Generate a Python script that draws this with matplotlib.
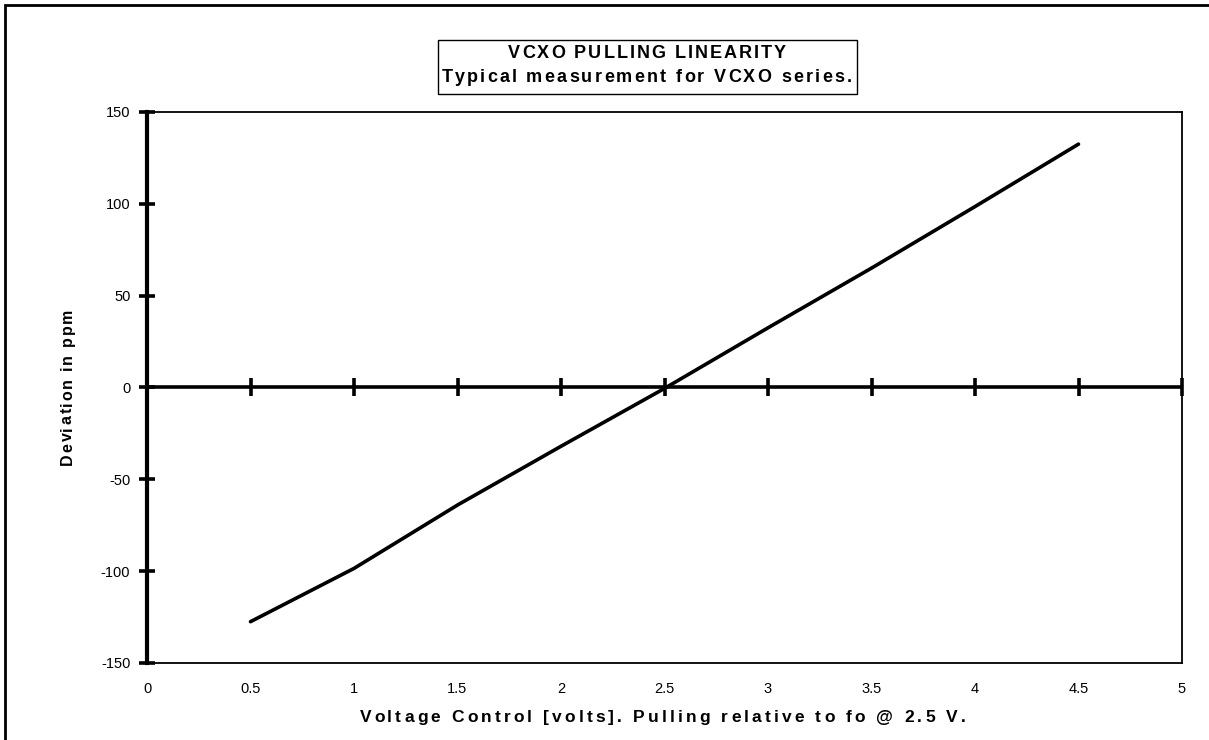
import matplotlib.pyplot as plt
from matplotlib.font_manager import FontProperties
from matplotlib.patches import Rectangle

plt.rcParams['font.family'] = ['Liberation Sans', 'DejaVu Sans']
plt.rcParams['axes.unicode_minus'] = False

# data
voltage = [0.5, 1.0, 1.5, 2.0, 2.5, 3.0, 3.5, 4.0, 4.5]
deviation = [-127.5, -98.5, -64.0, -32.0, -0.5, 32.5, 65.0, 98.5, 132.5]

xticks = [0, 0.5, 1, 1.5, 2, 2.5, 3, 3.5, 4, 4.5, 5]
xticklabels = ['0', '0.5', '1', '1.5', '2', '2.5', '3', '3.5', '4', '4.5', '5']
yticks = [-150, -100, -50, 0, 50, 100, 150]

title1 = 'VCXO PULLING LINEARITY'
title2 = 'Typical measurement for VCXO series.'
xlabel = 'Voltage Control [volts]. Pulling relative to fo @ 2.5 V.'
ylabel = 'Deviation in ppm'

W, H = 1209, 740
fig = plt.figure(figsize=(W / 100, H / 100), dpi=100)
renderer = fig.canvas.get_renderer()


def width_px(s, fp):
    # advance width of s, a sentinel keeps trailing spaces counted
    w1 = renderer.get_text_width_height_descent(s + '|', fp, ismath=False)[0]
    w0 = renderer.get_text_width_height_descent('|', fp, ismath=False)[0]
    return w1 - w0


def spaced_text(cx, cy, s, size, span, vertical=False):
    # draws s centred on pixel (cx, cy) (y from top), letters spread to span px
    fp = FontProperties(family=['Liberation Sans', 'DejaVu Sans'], weight='bold', size=size)
    track = (span - width_px(s, fp)) / (len(s) - 1)
    caph = renderer.get_text_width_height_descent('H', fp, ismath=False)[1]
    for i, ch in enumerate(s):
        if ch == ' ':
            continue
        off = width_px(s[:i], fp) + track * i - span / 2
        if vertical:
            x, y = cx + caph / 2, cy - off
            rot = 90
        else:
            x, y = cx + off, cy + caph / 2
            rot = 0
        fig.text(x / W, 1 - y / H, ch, fontproperties=fp, rotation=rot,
                 rotation_mode='anchor', ha='left', va='baseline')


# outer chart border
fig.patches.append(Rectangle((5 / W, -0.1), 1.2, 1 - 5 / H + 0.1,
                             transform=fig.transFigure, fill=False,
                             edgecolor='black', linewidth=2.0))

ax = fig.add_axes([147 / W, 1 - 663 / H, (1182 - 147) / W, (663 - 112) / H])
ax.set_xlim(0, 5)
ax.set_ylim(-150, 150)

# zero line with its tick marks
ax.axhline(0, color='black', linewidth=2.6, zorder=2)
ax.plot(xticks, [0] * len(xticks), linestyle='none', marker='|',
        markersize=13, markeredgewidth=2.6, color='black', zorder=2, clip_on=False)

ax.plot(voltage, deviation, color='black', linewidth=2.6,
        solid_capstyle='round', zorder=3)

ax.set_xticks(xticks)
ax.set_xticklabels(xticklabels)
ax.set_yticks(yticks)
ax.tick_params(axis='x', length=0, pad=14, labelsize=10.5)
ax.tick_params(axis='y', direction='inout', length=12, width=2.6, pad=6, labelsize=10.5)

for side in ['top', 'right', 'bottom']:
    ax.spines[side].set_linewidth(1.3)
ax.spines['left'].set_linewidth(3.0)

# labels and title with the wide letter spacing of the original
spaced_text(662, 716, xlabel, 12.5, 604)
spaced_text(66, 387, ylabel, 11.5, 157, vertical=True)

fig.patches.append(Rectangle((438 / W, 1 - 94 / H), (857 - 438) / W, 54 / H,
                             transform=fig.transFigure, fill=False,
                             edgecolor='black', linewidth=1.0))
spaced_text(647, 52, title1, 13, 278)
spaced_text(647, 75.5, title2, 13, 410)

fig.savefig('out.png', dpi=100)
